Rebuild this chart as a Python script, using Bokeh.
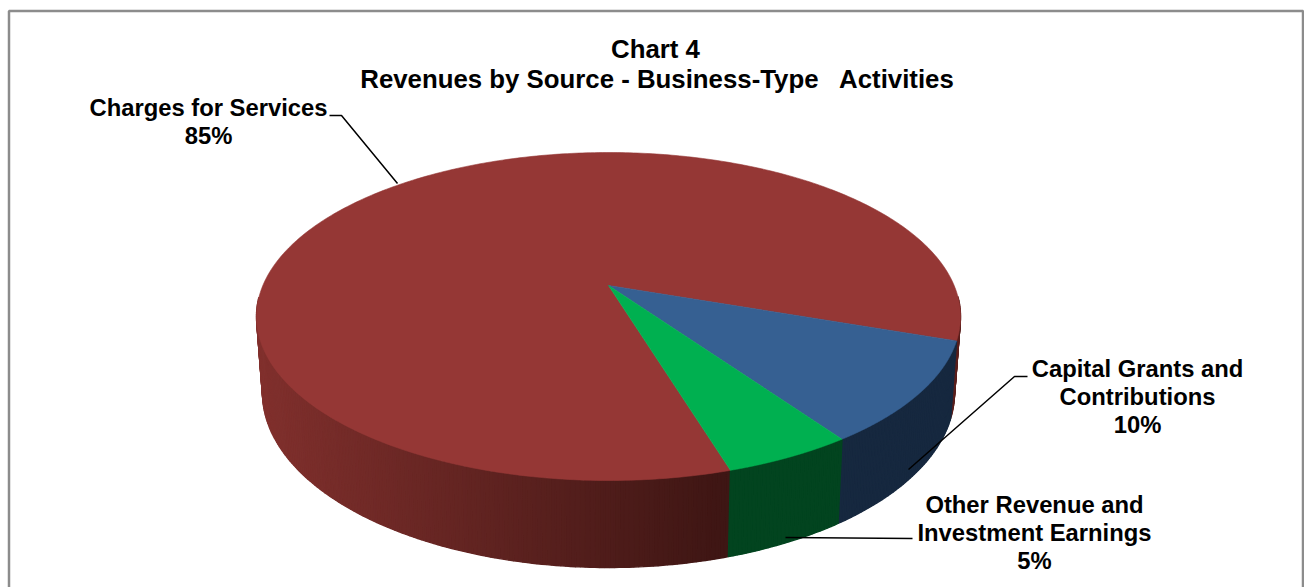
import numpy as np
from bokeh.core.properties import value
from bokeh.embed import file_html
from bokeh.plotting import figure
from bokeh.resources import INLINE

# Revenue shares, in percent, in drawing order (clockwise from the front)
categories = ["Charges for Services", "Capital Grants and Contributions", "Other Revenue and Investment Earnings"]
shares = [85, 10, 5]

title_lines = ["Chart 4", "Revenues by Source - Business-Type\u00a0\u00a0 Activities"]

top_colors = ["#953735", "#366092", "#00B050"]
side_colors = ["#5a1f1c", "#16283F", "#02441F"]

W, H = 1304, 587
FONT = value("Liberation Sans")
TEXT_SIZE = value("23.8px")
TITLE_SIZE = value("25.8px")

# Projected disc: upper rim, lower rim and the hub's offset on the rim's minor axis
TOP = dict(cx=608.0, cy=316.0, rx=352.0, ry=164.0)
BOTTOM = dict(cx=608.0, cy=392.0, rx=346.0, ry=175.0)
HUB = -0.189
START_DEG = 73.2


def project(theta_deg):
    """Perspective map of a disc angle to a (u, v) point on the unit rim or hub-based plane."""
    t = np.radians(theta_deg)
    u, v = np.cos(t), np.sin(t)
    den = 1 + HUB * v
    return u * np.sqrt(1 - HUB ** 2) / den, (v + HUB) / den


def rim(u, v, e):
    return e["cx"] + e["rx"] * u, e["cy"] + e["ry"] * v


p = figure(width=W, height=H, x_range=(0, W), y_range=(H, 0), output_backend="svg",
           toolbar_location=None, min_border=0, background_fill_color="white",
           border_fill_color="white", outline_line_color=None)
p.axis.visible = False
p.grid.visible = False

# Slice limits from the shares
edges = START_DEG + np.cumsum([0] + [s * 3.6 for s in shares])
spans = list(zip(edges[:-1], edges[1:]))

# Outer wall: thin vertical strips between the two rims
xs_wall, ys_wall, wall_fill = [], [], []
for i, (a, b) in enumerate(spans):
    steps = np.linspace(a, b, max(int((b - a) * 1.5), 2) + 1)
    for t0, t1 in zip(steps[:-1], steps[1:]):
        u0, v0 = project(t0)
        u1, v1 = project(t1)
        if (v0 + v1) / 2 < -0.12:
            continue
        x0, y0 = rim(u0, v0, TOP)
        x1, y1 = rim(u1, v1, TOP)
        x2, y2 = rim(u1, v1, BOTTOM)
        x3, y3 = rim(u0, v0, BOTTOM)
        colour = side_colors[i]
        if i == 0 and (x0 + x1) / 2 < 735:
            s = np.clip(((x0 + x1) / 2 - 263) / 463, 0, 1)
            rgb = (1 - s) * np.array([128, 48, 45]) + s * np.array([62, 22, 20])
            colour = "#%02x%02x%02x" % tuple(int(c) for c in rgb)
        xs_wall.append([x0, x1, x2, x3])
        ys_wall.append([y0, y1, y2, y3])
        wall_fill.append(colour)
p.patches(xs_wall, ys_wall, fill_color=wall_fill, line_color=wall_fill, line_width=1.4)

# Top face of each slice, meeting at the hub
hub_x, hub_y = rim(0.0, HUB, TOP)
for i, (a, b) in enumerate(spans):
    u, v = project(np.linspace(a, b, 400))
    x, y = rim(u, v, TOP)
    p.patch(np.r_[hub_x, x], np.r_[hub_y, y], fill_color=top_colors[i], line_color=top_colors[i], line_width=0.6)

# Leader lines from labels to slices
p.line([329, 341, 397], [115, 115, 183], line_color="black", line_width=1.5)
p.line([1027, 1014, 908], [376, 376, 469], line_color="black", line_width=1.5)
p.line([912, 785], [538, 537], line_color="black", line_width=1.5)

# Title and data labels
p.text([655, 657], [48, 78], text=title_lines, text_font=FONT, text_font_size=TITLE_SIZE,
       text_font_style="bold", text_align="center", text_baseline="alphabetic", text_color="black")

label_x = [208, 208, 1137, 1137, 1137, 1034, 1034, 1034]
label_y = [107, 135, 368, 396, 424, 503.5, 532, 560]
label_text = ["Charges for Services", f"{shares[0]}%",
              "Capital Grants and", "Contributions", f"{shares[1]}%",
              "Other Revenue and", "Investment Earnings", f"{shares[2]}%"]
p.text(label_x, label_y, text=label_text, text_font=FONT, text_font_size=TEXT_SIZE,
       text_font_style="bold", text_align="center", text_baseline="alphabetic", text_color="black")

# Chart frame, open at the foot of the page
p.line([8.5, 8.5, 1302.5, 1302.5], [587, 10.5, 10.5, 587], line_color="#8c8c8c", line_width=2.5)

open("out.html", "w").write(file_html(p, INLINE))
